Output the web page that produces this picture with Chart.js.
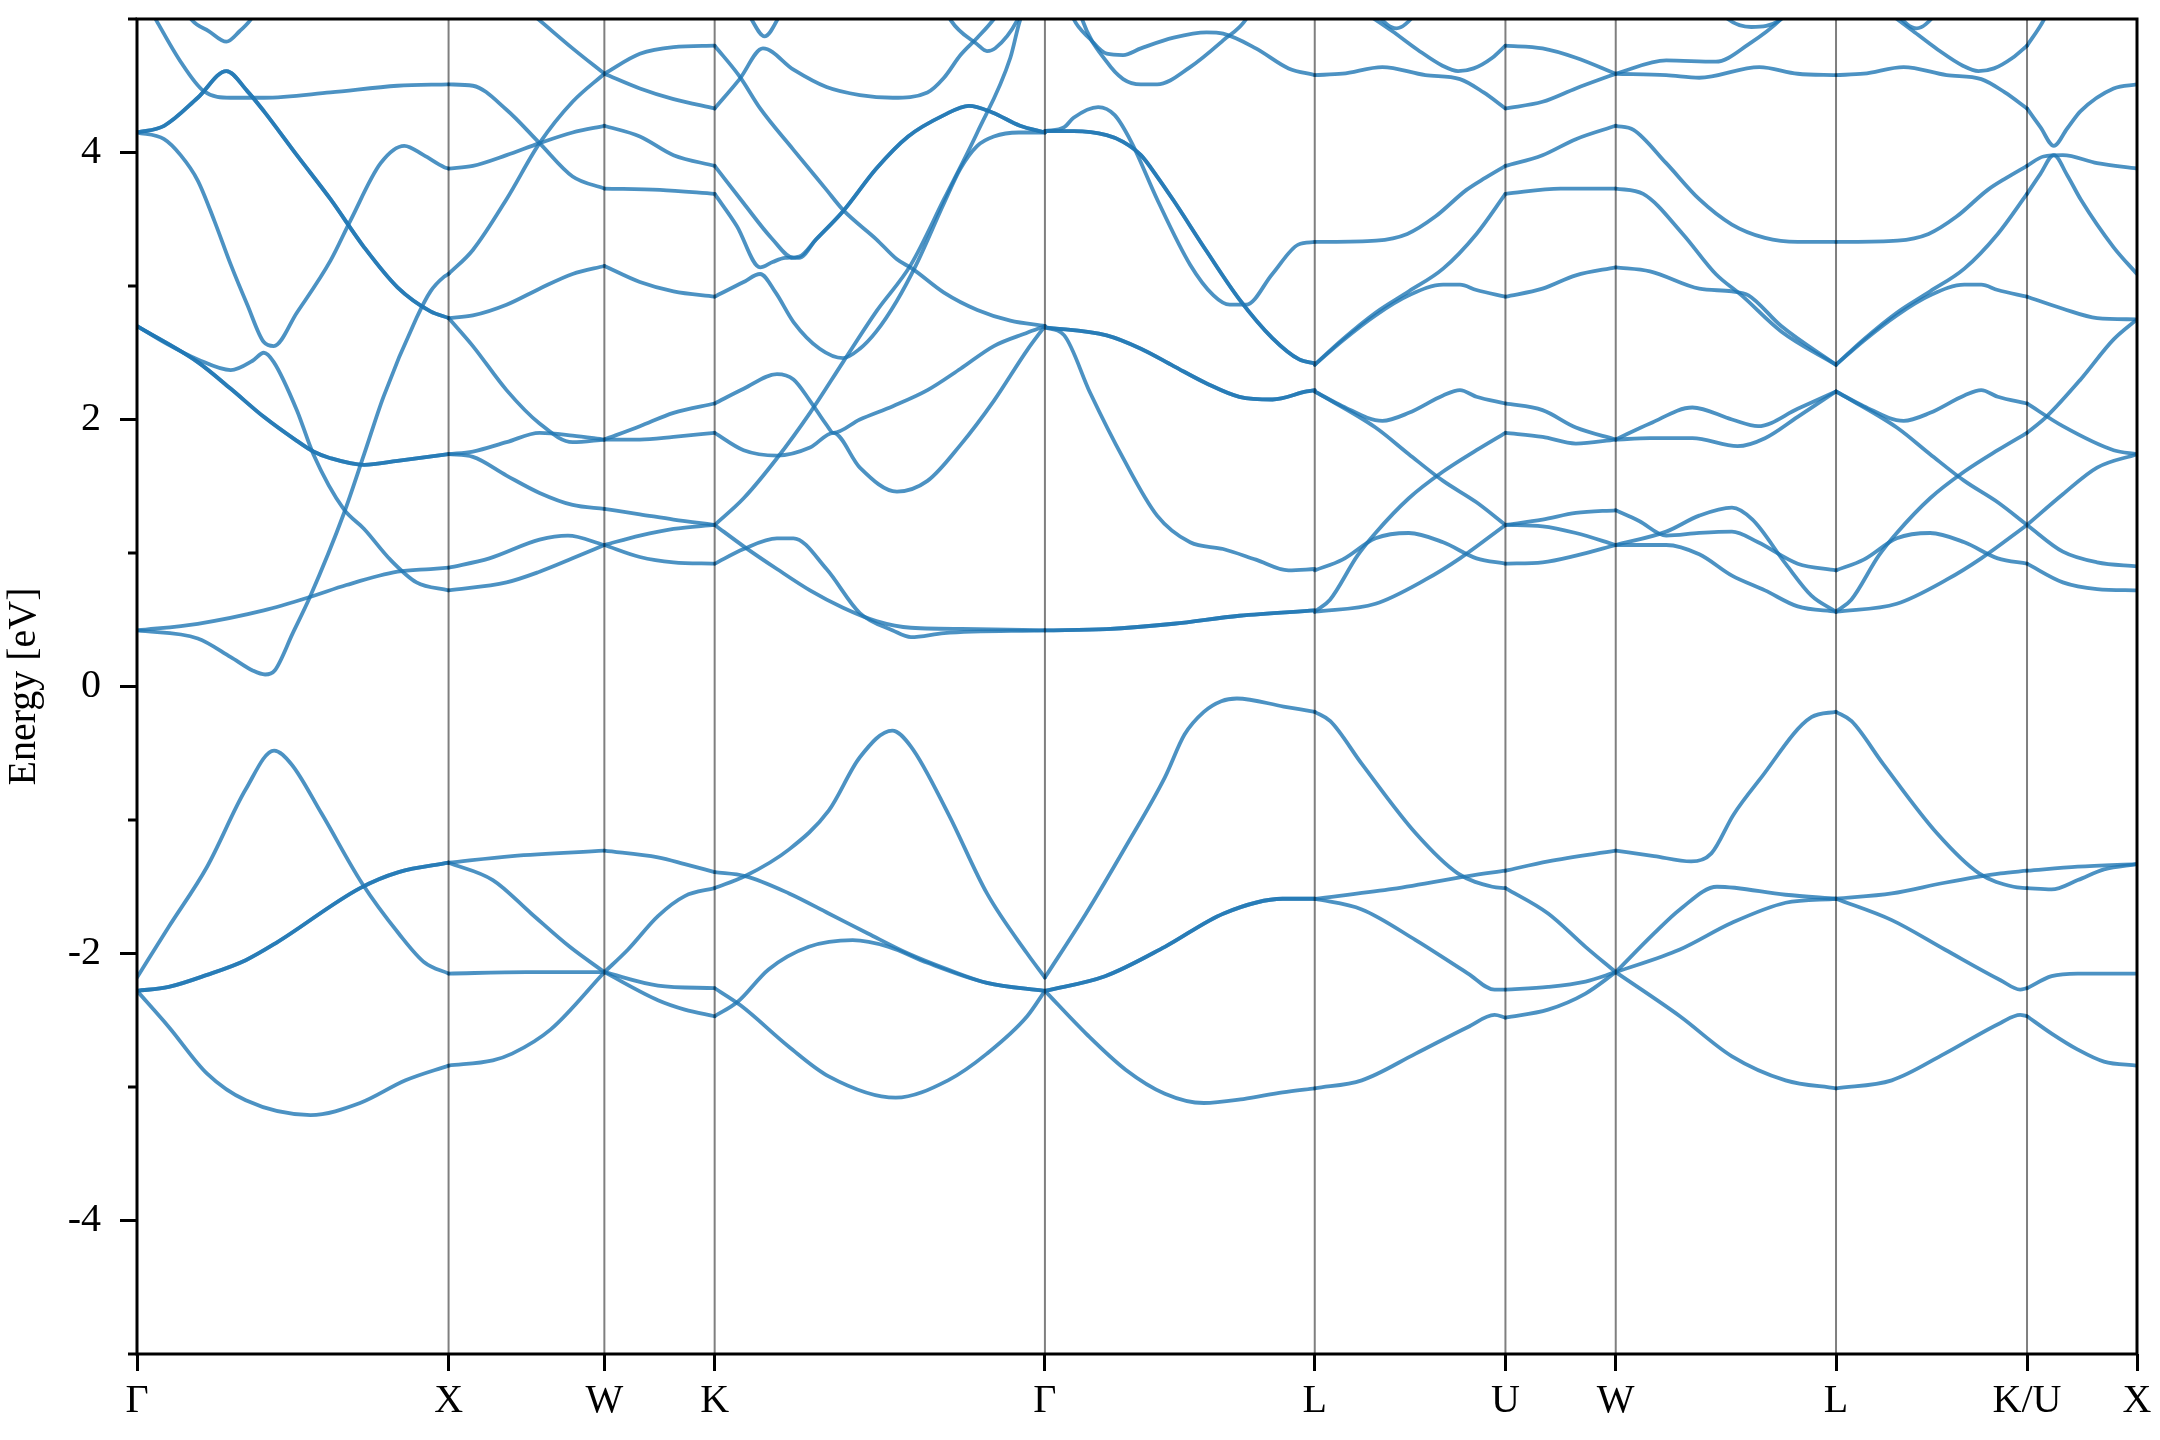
<!DOCTYPE html>
<html>
<head>
<meta charset="utf-8">
<script src="https://cdn.jsdelivr.net/npm/chart.js@4.4.0/dist/chart.umd.min.js"></script>
<style>
  html, body { margin: 0; background: #fff; }
</style>
</head>
<body>
<canvas id="bands" width="2160" height="1440"></canvas>
<script>
// Band structure along the fcc path, energies in eV vs path length k.
// Each segment holds its lines as [k, E] knots; degenerate bands are listed twice.

const kLabels = ['Γ', 'X', 'W', 'K', 'Γ', 'L', 'U', 'W', 'L', 'K/U', 'X'];
const kTicks = [0, 1, 1.5, 1.854, 2.914, 3.780, 4.392, 4.746, 5.453, 6.066, 6.419];
const energyTicks = [-4, -2, 0, 2, 4];
const minorTicks = [-5, -3, -1, 1, 3, 5];

const twice = line => [line, line];

const gammaX = [
    [[0,0.42],[0.195,0.47],[0.407,0.57],[0.555,0.67],[0.672,0.76],[0.836,0.86],[0.942,0.88],[1,0.89]],
    [[0,0.42],[0.195,0.36],[0.301,0.22],[0.371,0.12],[0.411,0.09],[0.442,0.12],[0.500,0.40],[0.555,0.67],[0.663,1.29],[0.729,1.74],[0.791,2.17],[0.897,2.76],[0.942,2.96],[0.986,3.07],[1,3.09]],
    ...twice([[0,2.70],[0.195,2.43],[0.301,2.23],[0.407,2.02],[0.513,1.84],[0.566,1.76],[0.621,1.71],[0.729,1.66],[0.836,1.69],[1,1.74]]),
    [[0,2.70],[0.093,2.57],[0.195,2.45],[0.301,2.37],[0.371,2.44],[0.407,2.50],[0.439,2.43],[0.513,2.07],[0.566,1.74],[0.663,1.33],[0.729,1.18],[0.813,0.95],[0.897,0.78],[1,0.72]],
    ...twice([[0,4.15],[0.087,4.20],[0.195,4.41],[0.287,4.61],[0.354,4.46],[0.407,4.31],[0.513,3.98],[0.621,3.65],[0.729,3.29],[0.836,2.99],[0.942,2.81],[1,2.76]]),
    [[0,4.15],[0.087,4.10],[0.140,3.98],[0.195,3.79],[0.248,3.49],[0.301,3.16],[0.354,2.86],[0.407,2.58],[0.439,2.55],[0.513,2.80],[0.621,3.19],[0.685,3.49],[0.782,3.92],[0.858,4.05],[0.920,3.98],[0.986,3.89],[1,3.88]],
    [[0,5.25],[0.062,4.99],[0.140,4.68],[0.214,4.46],[0.301,4.41],[0.407,4.41],[0.621,4.45],[0.836,4.50],[1,4.51]],
    [[0.10,5.3],[0.177,4.99],[0.23,4.91],[0.287,4.83],[0.33,4.91],[0.363,4.99],[0.45,5.3]],
    [[0,-2.28],[0.102,-2.55],[0.225,-2.90],[0.349,-3.10],[0.557,-3.21],[0.716,-3.12],[0.862,-2.95],[1,-2.84]],
    ...twice([[0,-2.28],[0.102,-2.25],[0.225,-2.16],[0.349,-2.05],[0.447,-1.92],[0.716,-1.51],[0.840,-1.39],[1,-1.32]]),
    [[0,-2.18],[0.102,-1.80],[0.225,-1.35],[0.349,-0.77],[0.440,-0.48],[0.495,-0.58],[0.592,-0.95],[0.721,-1.47],[0.840,-1.85],[0.924,-2.07],[1,-2.15]]
];

const xW = [
    [[1,0.72],[1.186,0.78],[1.292,0.86],[1.398,0.96],[1.5,1.06]],
    [[1,0.89],[1.131,0.96],[1.292,1.10],[1.383,1.13],[1.5,1.06]],
    [[1,1.74],[1.078,1.76],[1.186,1.83],[1.292,1.90],[1.398,1.88],[1.5,1.85]],
    [[1,1.74],[1.078,1.72],[1.186,1.58],[1.292,1.45],[1.398,1.36],[1.5,1.33]],
    [[1,2.76],[1.078,2.55],[1.186,2.22],[1.292,1.97],[1.398,1.83],[1.5,1.85]],
    [[1,2.76],[1.078,2.78],[1.186,2.86],[1.292,2.98],[1.398,3.09],[1.5,3.15]],
    [[1,3.09],[1.078,3.27],[1.186,3.65],[1.292,4.07],[1.398,4.38],[1.5,4.59]],
    [[1,3.88],[1.078,3.90],[1.186,3.98],[1.292,4.07],[1.398,4.15],[1.5,4.20]],
    [[1,4.51],[1.078,4.50],[1.186,4.32],[1.292,4.07],[1.398,3.82],[1.5,3.73]],
    [[1.1,5.35],[1.2,5.17],[1.292,4.99],[1.398,4.78],[1.5,4.59]],
    [[1,-2.84],[1.142,-2.80],[1.204,-2.75],[1.327,-2.57],[1.5,-2.14]],
    [[1,-2.15],[1.25,-2.14],[1.5,-2.14]],
    [[1,-1.32],[1.142,-1.45],[1.265,-1.70],[1.389,-1.95],[1.5,-2.14]],
    [[1,-1.32],[1.204,-1.27],[1.5,-1.23]]
];

const wK = [
    [[1.5,1.06],[1.614,0.97],[1.722,0.93],[1.854,0.92]],
    [[1.5,1.06],[1.614,1.13],[1.722,1.18],[1.854,1.21]],
    [[1.5,1.33],[1.614,1.29],[1.722,1.25],[1.854,1.21]],
    [[1.5,1.85],[1.614,1.85],[1.722,1.87],[1.854,1.90]],
    [[1.5,1.85],[1.614,1.95],[1.722,2.05],[1.854,2.12]],
    [[1.5,3.15],[1.614,3.03],[1.722,2.96],[1.854,2.92]],
    [[1.5,3.73],[1.678,3.72],[1.854,3.69]],
    [[1.5,4.20],[1.614,4.12],[1.722,3.98],[1.854,3.90]],
    [[1.5,4.59],[1.614,4.74],[1.722,4.79],[1.854,4.80]],
    [[1.5,4.59],[1.614,4.48],[1.722,4.40],[1.854,4.33]],
    [[1.5,-2.14],[1.672,-2.35],[1.758,-2.42],[1.854,-2.47]],
    [[1.5,-2.14],[1.672,-2.24],[1.854,-2.26]],
    [[1.5,-2.14],[1.576,-1.97],[1.672,-1.72],[1.758,-1.57],[1.854,-1.51]],
    [[1.5,-1.23],[1.672,-1.28],[1.758,-1.33],[1.854,-1.39]]
];

const kGamma = [
    [[1.854,0.92],[1.947,1.03],[2.054,1.11],[2.107,1.11],[2.213,0.88],[2.320,0.55],[2.426,0.42],[2.484,0.37],[2.590,0.40],[2.914,0.42]],
    [[1.854,1.21],[1.947,1.05],[2.054,0.88],[2.160,0.72],[2.266,0.59],[2.373,0.49],[2.484,0.44],[2.697,0.43],[2.914,0.42]],
    [[1.854,1.21],[1.947,1.41],[2.054,1.71],[2.160,2.05],[2.266,2.43],[2.373,2.81],[2.484,3.16],[2.590,3.65],[2.697,4.15],[2.803,4.71],[2.834,4.99],[2.914,5.4]],
    [[1.854,1.90],[1.947,1.77],[2.054,1.73],[2.160,1.79],[2.235,1.90],[2.320,1.64],[2.439,1.46],[2.537,1.54],[2.643,1.81],[2.750,2.14],[2.857,2.52],[2.914,2.70]],
    [[1.854,2.12],[1.947,2.23],[2.054,2.34],[2.107,2.30],[2.160,2.14],[2.213,1.96],[2.235,1.90],[2.320,2.00],[2.426,2.10],[2.537,2.22],[2.643,2.38],[2.750,2.55],[2.857,2.65],[2.914,2.70]],
    [[1.854,4.80],[1.934,4.57],[2.000,4.33],[2.107,4.02],[2.213,3.72],[2.266,3.57],[2.373,3.35],[2.439,3.20],[2.488,3.13],[2.590,2.95],[2.697,2.82],[2.803,2.74],[2.914,2.70]],
    [[1.854,4.33],[1.934,4.55],[2.009,4.78],[2.107,4.62],[2.213,4.49],[2.320,4.43],[2.426,4.41],[2.537,4.45],[2.590,4.56],[2.643,4.73],[2.697,4.86],[2.750,5.0],[2.834,5.3]],
    [[1.93,5.2],[1.974,4.99],[2.014,4.87],[2.054,4.99],[2.09,5.2]],
    [[1.854,2.92],[1.947,3.03],[2.000,3.09],[2.050,2.95],[2.107,2.73],[2.191,2.53],[2.266,2.46],[2.320,2.53],[2.373,2.66],[2.439,2.89],[2.501,3.16],[2.590,3.62],[2.643,3.88],[2.697,4.05],[2.750,4.12],[2.830,4.15],[2.914,4.15]],
    [[1.854,3.69],[1.925,3.45],[2.000,3.14],[2.040,3.18],[2.080,3.21],[2.125,3.22],[2.180,3.35],[2.266,3.56],[2.373,3.88],[2.475,4.12],[2.590,4.28],[2.670,4.35],[2.745,4.30],[2.834,4.20],[2.914,4.15]],
    [[1.854,3.90],[1.947,3.62],[2.036,3.36],[2.107,3.21],[2.125,3.21],[2.180,3.35],[2.266,3.56],[2.373,3.88],[2.475,4.12],[2.590,4.28],[2.670,4.35],[2.745,4.30],[2.834,4.20],[2.914,4.15]],
    [[2.57,5.2],[2.612,4.99],[2.697,4.81],[2.728,4.76],[2.754,4.78],[2.825,4.99],[2.86,5.2]],
    [[1.854,-2.26],[1.938,-2.39],[2.093,-2.70],[2.220,-2.92],[2.435,-3.08],[2.603,-2.95],[2.728,-2.75],[2.857,-2.47],[2.914,-2.28]],
    [[1.854,-2.47],[1.929,-2.36],[2.027,-2.12],[2.156,-1.95],[2.297,-1.90],[2.413,-1.95],[2.537,-2.07],[2.728,-2.22],[2.914,-2.28]],
    [[1.854,-1.39],[1.952,-1.42],[2.093,-1.55],[2.220,-1.70],[2.346,-1.85],[2.475,-2.00],[2.603,-2.12],[2.728,-2.22],[2.914,-2.28]],
    [[1.854,-1.51],[1.952,-1.42],[2.093,-1.22],[2.220,-0.93],[2.320,-0.53],[2.424,-0.33],[2.484,-0.45],[2.603,-0.95],[2.728,-1.55],[2.857,-2.00],[2.914,-2.18]]
];

const gammaL = [
    ...twice([[2.914,0.42],[3.112,0.43],[3.327,0.47],[3.538,0.53],[3.780,0.57]]),
    ...twice([[2.914,2.69],[3.112,2.63],[3.222,2.53],[3.327,2.40],[3.433,2.27],[3.538,2.17],[3.644,2.15],[3.754,2.21],[3.780,2.22]]),
    [[2.914,2.69],[2.976,2.63],[3.059,2.20],[3.165,1.71],[3.274,1.28],[3.380,1.08],[3.486,1.03],[3.591,0.95],[3.696,0.87],[3.780,0.88]],
    ...twice([[2.914,4.16],[3.006,4.16],[3.112,4.13],[3.165,4.08],[3.222,3.98],[3.274,3.82],[3.327,3.64],[3.433,3.26],[3.538,2.90],[3.644,2.61],[3.730,2.45],[3.780,2.42]]),
    [[2.914,4.16],[2.976,4.19],[3.006,4.26],[3.085,4.34],[3.138,4.28],[3.191,4.08],[3.274,3.65],[3.380,3.16],[3.455,2.93],[3.507,2.86],[3.560,2.86],[3.644,3.09],[3.727,3.31],[3.780,3.33]],
    [[2.96,5.3],[3.006,5.0],[3.059,4.85],[3.112,4.74],[3.165,4.73],[3.222,4.78],[3.327,4.86],[3.433,4.90],[3.486,4.89],[3.591,4.78],[3.696,4.63],[3.780,4.58]],
    [[3.0,5.3],[3.033,5.0],[3.112,4.68],[3.165,4.55],[3.222,4.51],[3.274,4.51],[3.380,4.64],[3.486,4.84],[3.560,5.0],[3.62,5.3]],
    [[2.914,-2.18],[3.046,-1.70],[3.173,-1.20],[3.299,-0.68],[3.362,-0.36],[3.424,-0.19],[3.48,-0.11],[3.53,-0.09],[3.68,-0.15],[3.780,-0.19]],
    ...twice([[2.914,-2.28],[3.107,-2.17],[3.299,-1.95],[3.488,-1.70],[3.677,-1.59],[3.780,-1.59]]),
    [[2.914,-2.28],[3.046,-2.60],[3.173,-2.87],[3.299,-3.05],[3.424,-3.12],[3.551,-3.09],[3.677,-3.04],[3.780,-3.01]]
];

const lU = [
    [[3.780,4.58],[3.869,4.59],[3.997,4.64],[4.135,4.58],[4.246,4.55],[4.322,4.45],[4.392,4.33]],
    [[3.92,5.08],[4.028,4.91],[4.11,4.77],[4.19,4.65],[4.24,4.61],[4.29,4.63],[4.35,4.71],[4.392,4.80]],
    [[3.95,5.1],[4.042,4.93],[4.13,5.1]],
    [[3.780,3.33],[3.977,3.34],[4.077,3.39],[4.167,3.52],[4.267,3.72],[4.327,3.81],[4.392,3.90]],
    [[3.780,2.41],[3.869,2.60],[3.975,2.80],[4.082,2.96],[4.192,3.13],[4.299,3.39],[4.392,3.69]],
    [[3.780,2.41],[3.869,2.59],[3.975,2.78],[4.082,2.93],[4.192,3.01],[4.246,3.01],[4.299,2.97],[4.392,2.92]],
    [[3.780,2.21],[3.869,2.10],[3.997,1.99],[4.082,2.05],[4.192,2.18],[4.246,2.22],[4.299,2.17],[4.392,2.12]],
    [[3.780,2.21],[3.975,1.94],[4.082,1.74],[4.192,1.54],[4.299,1.38],[4.392,1.21]],
    [[3.780,0.87],[3.869,0.95],[3.975,1.11],[4.082,1.15],[4.192,1.08],[4.299,0.96],[4.392,0.92]],
    [[3.780,0.56],[3.829,0.65],[3.917,0.98],[3.975,1.15],[4.082,1.41],[4.192,1.61],[4.299,1.77],[4.392,1.90]],
    [[3.780,0.56],[3.975,0.62],[4.135,0.80],[4.246,0.96],[4.392,1.21]],
    [[3.780,-0.19],[3.83,-0.26],[3.931,-0.58],[4.104,-1.10],[4.239,-1.40],[4.35,-1.50],[4.392,-1.51]],
    [[3.780,-1.59],[4.018,-1.52],[4.272,-1.42],[4.392,-1.38]],
    [[3.780,-1.59],[3.931,-1.67],[4.104,-1.90],[4.272,-2.15],[4.357,-2.27],[4.392,-2.27]],
    [[3.780,-3.01],[3.931,-2.95],[4.104,-2.75],[4.272,-2.55],[4.357,-2.46],[4.392,-2.48]]
];

const uW = [
    [[4.392,4.80],[4.511,4.78],[4.618,4.71],[4.746,4.59]],
    [[4.392,4.33],[4.511,4.38],[4.618,4.48],[4.746,4.59]],
    [[4.392,3.90],[4.511,3.98],[4.618,4.10],[4.746,4.20]],
    [[4.392,3.69],[4.569,3.73],[4.746,3.73]],
    [[4.392,2.92],[4.511,2.98],[4.618,3.08],[4.746,3.14]],
    [[4.392,2.12],[4.511,2.07],[4.618,1.94],[4.746,1.85]],
    [[4.392,1.90],[4.511,1.87],[4.618,1.82],[4.746,1.85]],
    [[4.392,1.21],[4.511,1.25],[4.618,1.30],[4.746,1.32]],
    [[4.392,1.21],[4.511,1.20],[4.618,1.15],[4.746,1.06]],
    [[4.392,0.92],[4.511,0.93],[4.618,0.98],[4.746,1.06]],
    [[4.392,-1.38],[4.529,-1.31],[4.746,-1.23]],
    [[4.392,-1.51],[4.529,-1.70],[4.649,-1.95],[4.746,-2.14]],
    [[4.392,-2.27],[4.529,-2.25],[4.649,-2.21],[4.746,-2.14]],
    [[4.392,-2.48],[4.529,-2.42],[4.649,-2.30],[4.746,-2.14]]
];

const wL = [
    [[4.746,4.59],[4.908,4.69],[5.067,4.68],[5.172,4.81],[5.277,5.0],[5.33,5.15]],
    [[4.746,4.59],[4.908,4.58],[5.014,4.56],[5.207,4.64],[5.330,4.59],[5.453,4.58]],
    [[5.07,5.1],[5.106,5.0],[5.181,4.94],[5.277,5.0],[5.31,5.1]],
    [[4.746,4.20],[4.803,4.17],[4.908,3.92],[5.014,3.65],[5.119,3.46],[5.225,3.36],[5.330,3.33],[5.453,3.33]],
    [[4.746,3.73],[4.834,3.69],[4.961,3.39],[5.067,3.09],[5.150,2.93],[5.277,2.66],[5.453,2.41]],
    [[4.746,3.14],[4.856,3.11],[5.014,2.98],[5.119,2.96],[5.172,2.93],[5.277,2.70],[5.453,2.41]],
    [[4.746,1.85],[4.856,1.97],[4.992,2.09],[5.119,2.00],[5.203,1.95],[5.330,2.08],[5.453,2.21]],
    [[4.746,1.85],[4.856,1.86],[4.992,1.86],[5.137,1.80],[5.225,1.86],[5.330,2.02],[5.453,2.21]],
    [[4.746,1.32],[4.821,1.24],[4.908,1.13],[5.014,1.15],[5.119,1.16],[5.203,1.08],[5.330,0.92],[5.453,0.87]],
    [[4.746,1.06],[4.908,1.16],[5.014,1.28],[5.119,1.34],[5.185,1.25],[5.291,0.92],[5.374,0.68],[5.453,0.56]],
    [[4.746,1.06],[4.908,1.06],[5.014,0.99],[5.119,0.83],[5.225,0.72],[5.330,0.60],[5.453,0.56]],
    [[4.746,-1.23],[4.869,-1.27],[4.988,-1.31],[5.053,-1.25],[5.124,-0.96],[5.207,-0.70],[5.374,-0.23],[5.453,-0.19]],
    [[4.746,-2.14],[4.952,-1.97],[5.119,-1.77],[5.291,-1.62],[5.453,-1.59]],
    [[4.746,-2.14],[4.869,-1.85],[4.952,-1.67],[5.071,-1.50],[5.291,-1.56],[5.453,-1.59]],
    [[4.746,-2.14],[4.952,-2.47],[5.119,-2.77],[5.291,-2.95],[5.453,-3.01]]
];

const lK = [
    [[5.453,4.58],[5.542,4.59],[5.670,4.64],[5.808,4.58],[5.919,4.55],[5.995,4.45],[6.066,4.33]],
    [[5.62,5.05],[5.70,4.91],[5.78,4.77],[5.86,4.65],[5.91,4.61],[5.96,4.63],[6.02,4.71],[6.066,4.80]],
    [[5.62,5.1],[5.712,4.93],[5.80,5.1]],
    [[5.453,3.33],[5.65,3.34],[5.75,3.39],[5.84,3.52],[5.94,3.72],[6.00,3.81],[6.066,3.90]],
    [[5.453,2.41],[5.542,2.60],[5.648,2.80],[5.755,2.96],[5.865,3.13],[5.972,3.39],[6.066,3.69]],
    [[5.453,2.41],[5.542,2.59],[5.648,2.78],[5.755,2.93],[5.865,3.01],[5.919,3.01],[5.972,2.97],[6.066,2.92]],
    [[5.453,2.21],[5.542,2.10],[5.670,1.99],[5.755,2.05],[5.865,2.18],[5.919,2.22],[5.972,2.17],[6.066,2.12]],
    [[5.453,2.21],[5.648,1.94],[5.755,1.74],[5.865,1.54],[5.972,1.38],[6.066,1.21]],
    [[5.453,0.87],[5.542,0.95],[5.648,1.11],[5.755,1.15],[5.865,1.08],[5.972,0.96],[6.066,0.92]],
    [[5.453,0.56],[5.502,0.65],[5.590,0.98],[5.648,1.15],[5.755,1.41],[5.865,1.61],[5.972,1.77],[6.066,1.90]],
    [[5.453,0.56],[5.648,0.62],[5.808,0.80],[5.919,0.96],[6.066,1.21]],
    [[5.453,-0.19],[5.503,-0.26],[5.604,-0.58],[5.777,-1.10],[5.912,-1.40],[6.023,-1.50],[6.066,-1.51]],
    [[5.453,-1.59],[5.632,-1.55],[5.802,-1.47],[5.981,-1.40],[6.066,-1.38]],
    [[5.453,-1.59],[5.632,-1.75],[5.802,-1.97],[5.981,-2.20],[6.044,-2.27],[6.066,-2.26]],
    [[5.453,-3.01],[5.632,-2.95],[5.802,-2.75],[5.981,-2.52],[6.044,-2.46],[6.066,-2.47]]
];

const uX = [
    [[6.066,4.33],[6.109,4.19],[6.152,4.05],[6.195,4.18],[6.238,4.31],[6.344,4.48],[6.419,4.51]],
    [[6.066,3.69],[6.109,3.84],[6.152,3.98],[6.195,3.83],[6.238,3.65],[6.344,3.29],[6.419,3.09]],
    [[6.066,3.90],[6.119,3.97],[6.181,3.98],[6.291,3.92],[6.419,3.88]],
    [[6.066,4.80],[6.119,4.99],[6.16,5.2]],
    [[6.066,2.92],[6.181,2.83],[6.291,2.76],[6.419,2.75]],
    [[6.066,2.12],[6.181,1.95],[6.344,1.77],[6.419,1.74]],
    [[6.066,1.90],[6.128,2.02],[6.238,2.30],[6.344,2.60],[6.419,2.75]],
    [[6.066,1.21],[6.181,1.01],[6.291,0.93],[6.419,0.90]],
    [[6.066,1.21],[6.181,1.44],[6.291,1.64],[6.419,1.74]],
    [[6.066,0.92],[6.181,0.78],[6.291,0.73],[6.419,0.72]],
    [[6.066,-1.51],[6.145,-1.52],[6.229,-1.45],[6.313,-1.37],[6.419,-1.33]],
    [[6.066,-1.38],[6.229,-1.35],[6.419,-1.33]],
    [[6.066,-2.26],[6.145,-2.17],[6.229,-2.15],[6.419,-2.15]],
    [[6.066,-2.47],[6.145,-2.60],[6.229,-2.72],[6.313,-2.81],[6.419,-2.84]]
];

const serif = 'Liberation Serif';
const lineColor = 'rgba(31,119,180,0.8)';

const datasets = [];
[gammaX, xW, wK, kGamma, gammaL, lU, uW, wL, lK, uX].forEach(segment => {
    segment.forEach(line => {
        datasets.push({
            data: line.map(([k, e]) => ({ x: k, y: e })),
            borderColor: lineColor,
            borderWidth: 3.8,
            pointRadius: 0,
            cubicInterpolationMode: 'monotone',
            borderCapStyle: 'round',
            borderJoinStyle: 'round',
            clip: 0,
        });
    });
});

// vertical k-point lines drawn over the bands, the frame, and the minor energy ticks
const framePlugin = {
    id: 'frame',
    afterDatasetsDraw(chart) {
        const { ctx, chartArea: ca, scales } = chart;
        ctx.save();
        ctx.strokeStyle = 'rgba(0,0,0,0.5)';
        ctx.lineWidth = 2;
        kTicks.slice(1, -1).forEach(k => {
            const px = scales.x.getPixelForValue(k);
            ctx.beginPath();
            ctx.moveTo(px, ca.top);
            ctx.lineTo(px, ca.bottom);
            ctx.stroke();
        });
        ctx.strokeStyle = '#000';
        ctx.lineWidth = 3;
        ctx.strokeRect(ca.left, ca.top, ca.right - ca.left, ca.bottom - ca.top);
        minorTicks.forEach(v => {
            const py = scales.y.getPixelForValue(v);
            ctx.beginPath();
            ctx.moveTo(ca.left - 9, py);
            ctx.lineTo(ca.left, py);
            ctx.stroke();
        });
        ctx.restore();
    },
};

new Chart(document.getElementById('bands'), {
    type: 'line',
    data: { datasets },
    options: {
        responsive: false,
        animation: false,
        devicePixelRatio: 1,
        layout: { padding: { top: 19, right: 23, left: 0, bottom: 0 } },
        plugins: { legend: { display: false }, tooltip: { enabled: false } },
        scales: {
            x: {
                type: 'linear',
                min: 0,
                max: 6.419,
                afterBuildTicks: s => { s.ticks = kTicks.map(v => ({ value: v })); },
                afterFit: s => { s.height = 86; s.paddingLeft = 0; s.paddingRight = 0; },
                border: { display: false },
                grid: { drawOnChartArea: false, tickLength: 17, tickWidth: 3, tickColor: '#000' },
                ticks: {
                    autoSkip: false, maxRotation: 0, padding: 6, color: '#000',
                    font: { family: serif, size: 40 },
                    callback: (v, i) => kLabels[i],
                },
            },
            y: {
                min: -5,
                max: 5,
                afterBuildTicks: s => { s.ticks = energyTicks.map(v => ({ value: v })); },
                afterFit: s => { s.width = 137; s.paddingTop = 0; s.paddingBottom = 0; },
                border: { display: false },
                grid: { drawOnChartArea: false, tickLength: 17, tickWidth: 3, tickColor: '#000' },
                title: {
                    display: true, text: 'Energy [eV]', color: '#000', padding: 0,
                    font: { family: serif, size: 40 },
                },
                ticks: {
                    padding: 19, color: '#000',
                    font: { family: serif, size: 40 },
                    callback: v => String(v),
                },
            },
        },
    },
    plugins: [framePlugin],
});
</script>
</body>
</html>
